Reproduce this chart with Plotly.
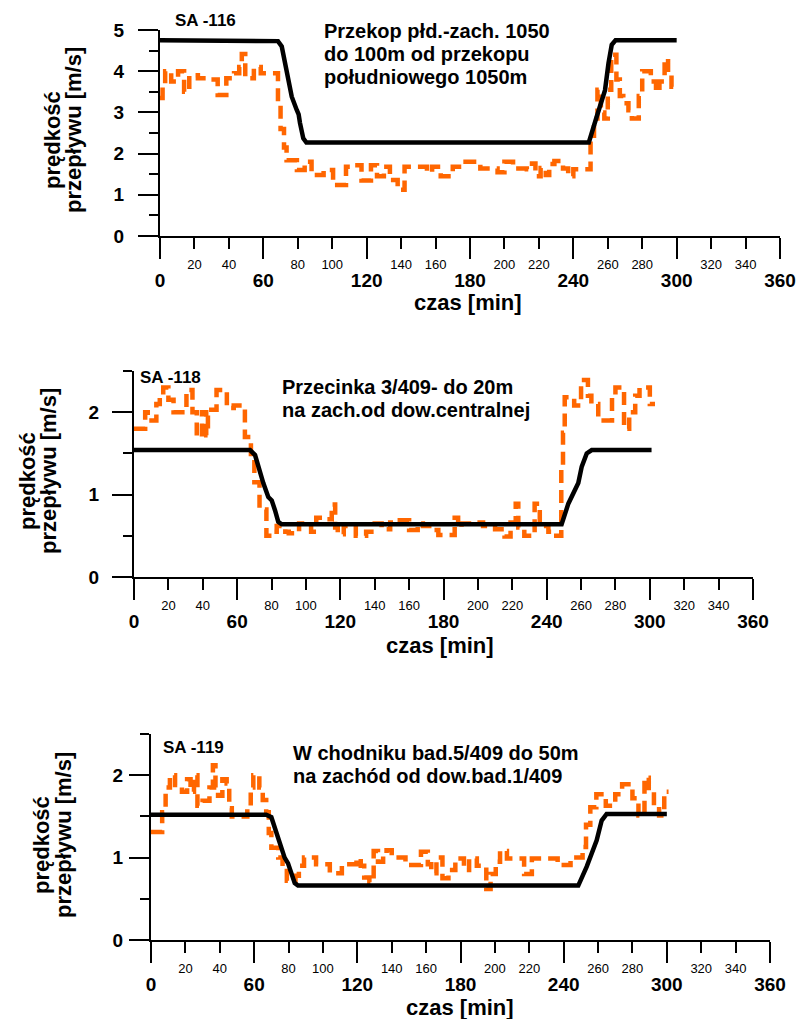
import plotly.graph_objects as go

W, H = 798, 1019
FONT = "Liberation Sans, Arial, Helvetica, sans-serif"
ORANGE = "#FF6600"

# time axis: bold labels every hour, small labels on the 20-min ticks
major_ticks = [0, 60, 120, 180, 240, 300, 360]
minor_labels = [20, 40, 80, 100, 140, 160, 200, 220, 260, 280, 320, 340]

# SA-116
t116_calc = [0, 66.5, 68.5, 70.7, 72, 73.6, 76.5, 79.4, 80.5, 81.3, 83.2, 85,
             249, 253.6, 258.4, 260.4, 262.3, 264.5, 300]
v116_calc = [4.75, 4.75, 4.73, 4.6, 4.35, 3.95, 3.38, 3.06, 2.95, 2.74, 2.37, 2.27,
             2.27, 2.9, 3.54, 4.19, 4.64, 4.75, 4.75]
t116_meas = [0, 1.5, 3, 6.5, 10.5, 14, 17, 22, 27, 33.5, 38.5, 43, 46, 47.5, 49.5,
             54.5, 58.5, 68.5, 70, 72, 73.5, 79.5, 84, 88, 95, 100.5, 108, 113, 117,
             122.5, 126, 130, 133.5, 138, 142, 155, 158, 163, 170, 176, 186, 196,
             200, 205, 213, 216, 218, 221, 224, 226, 229, 234, 237, 240, 250, 252,
             254, 256, 258, 260, 262, 265, 267, 269, 272, 274, 278, 280, 285, 288,
             290, 293, 295, 297, 302]
v116_meas = [3.35, 3.7, 4.0, 3.75, 4.0, 3.5, 3.9, 3.83, 3.8, 3.42, 3.83, 3.95, 4.1,
             4.42, 3.83, 4.1, 3.95, 3.2, 2.6, 2.15, 1.84, 1.6, 1.8, 1.48, 1.6, 1.24,
             1.68, 1.72, 1.35, 1.72, 1.45, 1.68, 1.36, 1.12, 1.68, 1.55, 1.68, 1.45,
             1.68, 1.8, 1.64, 1.55, 1.8, 1.64, 1.62, 1.76, 1.45, 1.65, 1.48, 1.75,
             1.82, 1.64, 1.45, 1.62, 2.3, 2.85, 3.55, 3.0, 2.85, 3.55, 4.4, 3.8, 3.4,
             3.22, 3.05, 2.85, 3.4, 4.0, 3.75, 3.5, 3.75, 4.3, 3.9, 3.62, 3.62]

# SA-118
t118_calc = [0, 67.5, 70.4, 72.3, 75.2, 78.1, 80.1, 82, 83.9, 85.9,
             248.7, 252.6, 258.4, 260.4, 263.3, 266.2, 301]
v118_calc = [1.54, 1.54, 1.48, 1.34, 1.14, 0.97, 0.93, 0.81, 0.67, 0.64,
             0.64, 0.89, 1.14, 1.34, 1.5, 1.54, 1.54]
t118_meas = [0, 6.5, 8, 13, 15, 17, 20, 23, 30.5, 34, 36.5, 39.5, 42, 43, 48, 54, 58,
             64.5, 68, 70, 73, 77, 81, 83, 88, 90, 96, 103, 106, 110, 115, 117, 118.5,
             122, 129, 135, 140, 144, 149, 152, 160, 165, 168, 173, 177, 186.5, 188.5,
             190.5, 197, 203, 210, 215.5, 219, 222, 223.5, 227, 233, 236, 241, 244,
             248.5, 249.5, 250.5, 256, 260, 264, 266, 270, 278, 280, 285, 288, 291.5,
             294, 300, 303]
v118_meas = [1.8, 2.0, 1.9, 2.1, 2.2, 2.3, 2.15, 2.0, 2.27, 2.0, 1.7, 2.0, 1.72, 2.03,
             2.27, 2.05, 2.08, 1.7, 1.45, 1.15, 0.82, 0.5, 0.55, 0.62, 0.55, 0.53, 0.65,
             0.55, 0.72, 0.7, 0.88, 0.6, 0.52, 0.62, 0.5, 0.55, 0.65, 0.58, 0.66, 0.69,
             0.57, 0.65, 0.62, 0.57, 0.51, 0.72, 0.6, 0.65, 0.66, 0.62, 0.58, 0.49,
             0.66, 0.89, 0.6, 0.5, 0.89, 0.62, 0.55, 0.5, 1.3, 1.75, 2.18, 2.08, 2.39,
             2.2, 2.1, 1.9, 2.2, 2.3, 1.8, 2.0, 2.2, 2.3, 2.1, 2.1]

# SA-119
t119_calc = [0, 67, 70, 71.9, 74.8, 75.8, 77.7, 79.7, 81.6, 83.6, 85.5,
             248.5, 253.4, 257.3, 259.2, 262.1, 265, 300]
v119_calc = [1.52, 1.52, 1.49, 1.37, 1.21, 1.13, 1.0, 0.93, 0.8, 0.69, 0.66,
             0.66, 0.89, 1.09, 1.21, 1.45, 1.53, 1.53]
t119_meas = [0, 6.5, 8.5, 11, 14, 18, 21, 23, 25, 27, 30, 34, 36, 37.5, 39, 41.5, 44,
             45.5, 47, 56, 58, 59.5, 63, 65, 67, 68.5, 70, 74, 76.5, 79, 84, 86, 89,
             96, 104, 111, 119.5, 122, 124, 127, 129.5, 132, 135, 137, 140, 148, 157,
             161, 163, 166, 169.5, 173, 177, 182, 185, 189.5, 195, 197.5, 200.5, 203,
             207, 217, 221.5, 236.5, 244, 251, 253, 255.5, 259, 264.5, 270, 274, 280,
             283.5, 287, 289.5, 292.5, 295.5, 298.5, 301]
v119_meas = [1.31, 1.55, 1.85, 2.0, 1.88, 1.8, 1.95, 1.8, 2.0, 1.63, 1.69, 1.85, 2.12,
             1.85, 1.75, 1.95, 1.9, 1.6, 1.5, 1.62, 1.85, 2.0, 1.85, 1.7, 1.55, 1.3,
             1.12, 1.0, 0.88, 0.72, 0.78, 0.9, 1.0, 0.92, 0.81, 0.92, 0.99, 0.9, 0.76,
             0.7, 1.08, 0.95, 1.05, 1.09, 1.0, 0.91, 1.07, 0.92, 0.81, 1.0, 0.75, 0.85,
             0.99, 0.85, 0.99, 0.9, 0.62, 0.8, 0.95, 1.08, 0.99, 0.8, 0.99, 0.91, 1.0,
             1.13, 1.4, 1.61, 1.77, 1.63, 1.77, 1.89, 1.72, 1.51, 1.97, 1.8, 1.62, 1.51,
             1.8, 1.8]

# panel layout in pixels: plot box (left, right, top, bottom) and text placement
panels = [
    dict(tag="SA -116",
         lines=["Przekop płd.-zach. 1050", "do 100m od przekopu", "południowego 1050m"],
         calc=(t116_calc, v116_calc), meas=(t116_meas, v116_meas), ymax=5,
         box=(160, 780, 30, 236), ystand=10,
         tag_xy=(205, 20), text_x=322, text_y=[31, 53.5, 76.5],
         ylab=[(52, 140), (73, 130)], xlab=(468, 302)),
    dict(tag="SA -118",
         lines=["Przecinka 3/409- do 20m", "na zach.od dow.centralnej"],
         calc=(t118_calc, v118_calc), meas=(t118_meas, v118_meas), ymax=2.5,
         box=(134, 753, 371, 577), ystand=9,
         tag_xy=(170, 377), text_x=280, text_y=[387, 410],
         ylab=[(27, 481), (48, 471)], xlab=(440, 645)),
    dict(tag="SA -119",
         lines=["W chodniku bad.5/409 do 50m", "na zachód od dow.bad.1/409"],
         calc=(t119_calc, v119_calc), meas=(t119_meas, v119_meas), ymax=2.5,
         box=(151, 770, 734, 940), ystand=2,
         tag_xy=(193, 747), text_x=291, text_y=[753, 776],
         ylab=[(41, 845), (63, 835)], xlab=(460, 1007)),
]

fig = go.Figure()
layout = dict(
    width=W, height=H, margin=dict(l=0, r=0, t=0, b=0, autoexpand=False),
    paper_bgcolor="white", plot_bgcolor="white", showlegend=False,
    font=dict(family=FONT, color="black"),
)
annotations = []


def ann(text, px, py, size, xanchor="center", angle=0):
    annotations.append(dict(
        text=text, x=px / W, y=1 - py / H, xref="paper", yref="paper",
        xanchor=xanchor, yanchor="middle", showarrow=False, textangle=angle,
        font=dict(family=FONT, size=size, color="black"),
    ))


for i, p in enumerate(panels, start=1):
    x0, x1, yt, yb = p["box"]
    xid = "x" if i == 1 else f"x{i}"
    yid = "y" if i == 1 else f"y{i}"
    lab_id = f"x{i + 3}"

    fig.add_trace(go.Scatter(
        x=p["meas"][0], y=p["meas"][1], mode="lines", xaxis=xid, yaxis=yid,
        line=dict(color=ORANGE, width=4.5, dash="13px,7px", shape="hv"),
        hoverinfo="skip"))
    fig.add_trace(go.Scatter(
        x=p["calc"][0], y=p["calc"][1], mode="lines", xaxis=xid, yaxis=yid,
        line=dict(color="black", width=4.5), hoverinfo="skip"))
    # host trace for the axis carrying the small 20-min labels
    fig.add_trace(go.Scatter(x=[None], y=[None], mode="lines", xaxis=lab_id,
                             yaxis=yid, hoverinfo="skip"))

    layout[f"xaxis{i}"] = dict(
        domain=[x0 / W, x1 / W], anchor=yid, range=[0, 360], automargin=False,
        tickmode="array", tickvals=major_ticks,
        ticks="outside", ticklen=21, tickwidth=2, tickcolor="black",
        minor=dict(tick0=0, dtick=20, ticks="outside", ticklen=11,
                   tickwidth=1.5, tickcolor="black"),
        showline=True, linewidth=2, linecolor="black",
        showgrid=False, zeroline=False, ticklabelstandoff=5,
        tickfont=dict(family=FONT, size=19, color="black", weight="bold"),
    )
    layout[f"xaxis{i + 3}"] = dict(
        overlaying=xid, anchor=yid, side="bottom", range=[0, 360], automargin=False,
        tickmode="array", tickvals=minor_labels,
        ticktext=[str(v) for v in minor_labels],
        ticks="", showline=False, showgrid=False, zeroline=False,
        ticklabelstandoff=19,
        tickfont=dict(family=FONT, size=13, color="black"),
    )
    layout[f"yaxis{i}"] = dict(
        domain=[1 - yb / H, 1 - yt / H], anchor=xid, range=[0, p["ymax"]],
        automargin=False,
        tickmode="linear", tick0=0, dtick=1,
        ticks="outside", ticklen=20, tickwidth=2, tickcolor="black",
        minor=dict(tick0=0, dtick=0.5, ticks="outside", ticklen=9,
                   tickwidth=1.5, tickcolor="black"),
        showline=True, linewidth=2, linecolor="black",
        showgrid=False, zeroline=False, ticklabelstandoff=p["ystand"],
        tickfont=dict(family=FONT, size=19, color="black", weight="bold"),
    )

    ann(f"<b>{p['tag']}</b>", p["tag_xy"][0], p["tag_xy"][1], 17)
    for line, ty in zip(p["lines"], p["text_y"]):
        ann(f"<b>{line}</b>", p["text_x"], ty, 20, xanchor="left")
    ann("<b>prędkość</b>", p["ylab"][0][0], p["ylab"][0][1], 22, angle=-90)
    ann("<b>przepływu [m/s]</b>", p["ylab"][1][0], p["ylab"][1][1], 22, angle=-90)
    ann("<b>czas [min]</b>", p["xlab"][0], p["xlab"][1], 22)

layout["xaxis"] = layout.pop("xaxis1")
layout["yaxis"] = layout.pop("yaxis1")
layout["annotations"] = annotations
fig.update_layout(**layout)

fig.write_html("out.html")
